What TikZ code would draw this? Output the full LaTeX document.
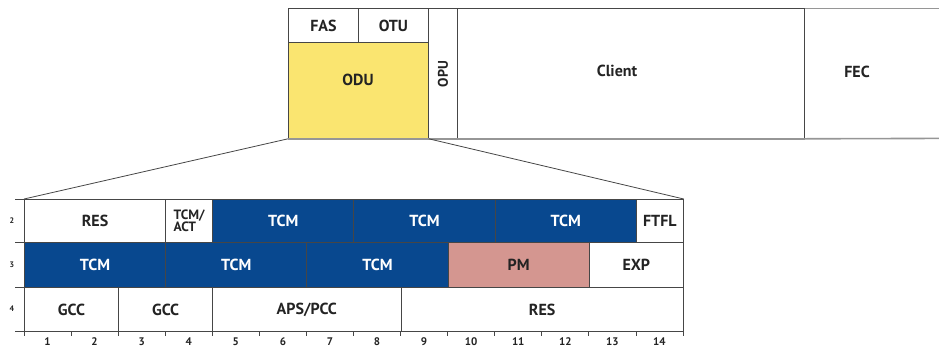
\documentclass[tikz,border=0pt]{standalone}
\usepackage{fontspec}
\setmainfont{PT Sans}
\definecolor{otnblue}{RGB}{8,72,143}
\definecolor{pmpink}{RGB}{212,150,144}
\definecolor{oduyellow}{RGB}{250,229,112}
\definecolor{rule}{RGB}{70,70,70}
\definecolor{softrule}{RGB}{150,150,150}
\definecolor{ink}{RGB}{35,35,35}
\begin{document}
\begin{tikzpicture}[x=1pt,y=-1pt,
  font=\fontsize{16}{18}\selectfont\bfseries,
  grid/.style={draw=rule, line width=0.8pt},
  cell/.style={grid, anchor=north west, inner sep=0pt, text=ink},
  cols/.style={minimum width={#1*47.07pt}},
  rowa/.style={minimum height=43pt},
  rowb/.style={minimum height=45pt},
  rowc/.style={minimum height=44pt},
  tcm/.style={fill=otnblue, text=white},
  lbl/.style={inner sep=0pt, text=ink},
  num/.style={inner sep=0pt, text=ink, font=\fontsize{11}{12}\selectfont\bfseries},
  rownum/.style={inner sep=0pt, text=ink, font=\fontsize{8}{9}\selectfont\bfseries},
  zoomline/.style={draw=rule, line width=0.8pt}]
\useasboundingbox (0,0) rectangle (939,349);

% ---- OTU frame ----
\node[cell, minimum width=70pt, minimum height=34pt] (fas) at (288,8) {};
\node[cell, minimum width=70pt, minimum height=34pt] (otu) at (358,8) {};
\node[cell, fill=oduyellow, minimum width=140pt, minimum height=96pt] (odu) at (288,42) {};
\node[cell, minimum width=29pt, minimum height=130pt] (opu) at (428,8) {};
\node[cell, minimum width=347pt, minimum height=130pt] (client) at (457,8) {};
\node[anchor=north west, inner sep=0pt, minimum width=135pt, minimum height=130pt] (fec) at (804,8) {};
\draw[draw=softrule, line width=0.8pt] (client.north east) -- (fec.north east);
\draw[draw=softrule, line width=1.6pt] (client.south east) -- (fec.south east);
\draw[draw=softrule, line width=1.6pt] (odu.south west) -- (client.south east);

\node[lbl] at (fas.center) {FAS};
\node[lbl] at (otu.center) {OTU};
\node[lbl] at (358,80) {ODU};
\node[lbl, rotate=90, font=\fontsize{14}{16}\selectfont\bfseries] at (443,74) {OPU};
\node[lbl] at (617,71) {Client};
\node[lbl] at (857,72) {FEC};

% ---- ODU overhead, rows 2 to 4 ----
% row 2
\node[cell, cols=3, rowa] (res2) at (24,199) {RES};
\node[cell, cols=1, rowa, align=left, font=\fontsize{13.5}{12}\selectfont\bfseries] (act) at ({24+47.07*3},199) {TCM/\\ACT};
\node[cell, cols=3, rowa, tcm] (tcma) at ({24+47.07*4},199) {TCM};
\node[cell, cols=3, rowa, tcm] (tcmb) at ({24+47.07*7},199) {TCM};
\node[cell, cols=3, rowa, tcm] (tcmc) at ({24+47.07*10},199) {TCM};
\node[cell, cols=1, rowa] (ftfl) at ({24+47.07*13},199) {FTFL};
% row 3
\node[cell, cols=3, rowb, tcm] (tcmd) at (24,242) {TCM};
\node[cell, cols=3, rowb, tcm] (tcme) at ({24+47.07*3},242) {TCM};
\node[cell, cols=3, rowb, tcm] (tcmf) at ({24+47.07*6},242) {TCM};
\node[cell, cols=3, rowb, fill=pmpink] (pm) at ({24+47.07*9},242) {PM};
\node[cell, cols=2, rowb] (exp) at ({24+47.07*12},242) {EXP};
% row 4
\node[cell, cols=2, rowc] (gcca) at (24,287) {GCC};
\node[cell, cols=2, rowc] (gccb) at ({24+47.07*2},287) {GCC};
\node[cell, cols=4, rowc] (aps) at ({24+47.07*4},287) {APS/PCC};
\node[cell, cols=6, rowc] (res4) at ({24+47.07*8},287) {RES};

% row rules run a little past the left edge
\foreach \y in {199,242,287,331} \draw[grid] (15,\y) -- (24,\y);
\node[rownum] (rn2) at (12,221) {2};
\node[rownum] (rn3) at (12,265) {3};
\node[rownum] (rn4) at (12,309) {4};

% column ticks and numbers
\foreach \k in {0,...,14} \draw[grid] ({24+47.07*\k},331) -- ++(0,5);
\foreach \i in {1,...,14} \node[num] (c\i) at ({24+47.07*(\i-0.5)},342) {\i};

% expansion lines from the ODU
\draw[zoomline] (odu.south west) -- (res2.north west);
\draw[zoomline] (odu.south east) -- (ftfl.north east);
\end{tikzpicture}
\end{document}
